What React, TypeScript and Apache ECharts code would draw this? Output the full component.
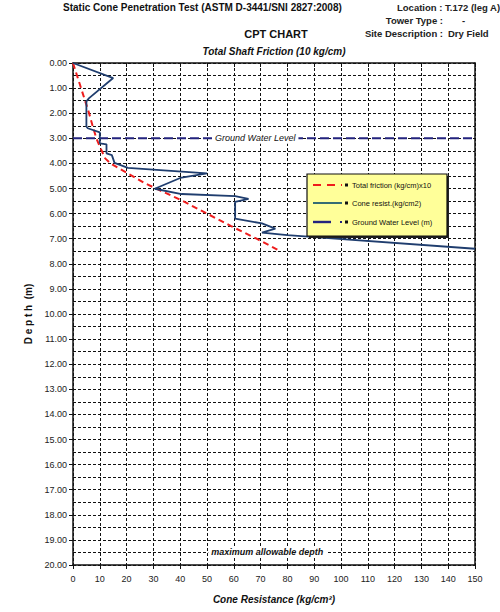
import React, { useEffect, useRef } from "react";
import * as echarts from "echarts";

// cone resistance (kg/cm2) against depth (m)
const coneDepth = [0, 0.6, 1.4, 1.53, 2.53, 2.6, 2.76, 3.2, 3.24, 3.6, 3.67, 3.98, 4.18, 4.4, 4.58, 5.01, 5.22, 5.3, 5.41, 5.53, 6.2, 6.39, 6.6, 6.76, 6.86, 7.4];
const coneValue = [0, 15, 6, 5, 5, 5.5, 10, 10, 12.5, 12.5, 14.5, 15.5, 20.5, 50, 40, 30.5, 40.5, 60.5, 65.5, 60.5, 60.5, 70.5, 75.5, 70.5, 80, 150];

// total shaft friction x10 against depth
const frictionDepth = [0, 0.5, 1.0, 1.5, 2.0, 2.5, 3.0, 3.4, 3.8, 4.0, 4.4, 4.8, 5.1, 5.5, 6.0, 6.5, 7.0, 7.45];
const frictionValue = [0, 1.5, 3, 4.5, 6, 7.3, 8.7, 10.3, 12, 14, 20.5, 27, 33, 41, 50, 59, 68.5, 76.5];

const groundWaterDepth = 3;
const maxAllowableDepth = 19.5;
const maxDepth = 20;
const xTicks = [0, 150];

const navy = "#1f3d6e";
const gwlColor = "#23237e";
const font = "Liberation Sans, Arial, sans-serif";

const App = () => {
  const chartRef = useRef<HTMLDivElement>(null);

  useEffect(() => {
    document.body.style.margin = "0";
    const chart = echarts.init(chartRef.current, null, { renderer: "svg" });

    const cone = coneDepth.map((d, i) => [coneValue[i], d]);
    const friction = frictionDepth.map((d, i) => [frictionValue[i], d]);

    // legend box parts, all on top of the plot
    const lz = { z: 100, zlevel: 0 };

    chart.setOption({
      animation: false,
      textStyle: { fontFamily: font },
      grid: { left: 73, right: 25, top: 63, bottom: 47 },
      xAxis: [
        {
          type: "value",
          position: "bottom",
          min: xTicks[0],
          max: xTicks[1],
          interval: 10,
          name: "Cone Resistance (kg/cm²)",
          nameLocation: "middle",
          nameGap: 29,
          nameTextStyle: { fontWeight: "bold", fontStyle: "italic", fontSize: 10, color: "#111" },
          axisLine: { show: true, onZero: false, lineStyle: { color: "#111", width: 1.5 } },
          axisTick: { show: true, length: 4, lineStyle: { color: "#111" } },
          axisLabel: { fontSize: 9, color: "#222", margin: 9 },
          splitLine: { show: true, lineStyle: { color: "#111", type: [3, 2], width: 1 } },
        },
        {
          type: "value",
          position: "top",
          min: xTicks[0],
          max: xTicks[1],
          interval: 10,
          name: "Total Shaft Friction (10 kg/cm)",
          nameLocation: "middle",
          nameGap: 7,
          nameTextStyle: { fontWeight: "bold", fontStyle: "italic", fontSize: 10, color: "#111", verticalAlign: "bottom" },
          axisLine: { show: true, onZero: false, lineStyle: { color: "#111", width: 1.5 } },
          axisTick: { show: true, inside: true, length: 4, lineStyle: { color: "#111" } },
          axisLabel: { show: false },
          splitLine: { show: false },
        },
      ],
      yAxis: [
        {
          type: "value",
          inverse: true,
          min: 0,
          max: maxDepth,
          interval: 1,
          name: "D e p t h  (m)",
          nameLocation: "middle",
          nameGap: 34,
          nameRotate: 90,
          nameTextStyle: { fontWeight: "bold", fontSize: 10, color: "#111" },
          axisLine: { show: true, onZero: false, lineStyle: { color: "#111", width: 1.5 } },
          axisTick: { show: true, length: 4, lineStyle: { color: "#111" } },
          axisLabel: { fontSize: 9, color: "#222", margin: 6, formatter: (v: number) => v.toFixed(2) },
          splitLine: { show: true, lineStyle: { color: "#111", type: [3, 2], width: 1 } },
          minorTick: { show: false, splitNumber: 2 },
          minorSplitLine: { show: true, lineStyle: { color: "#111", type: [3, 2], width: 1 } },
        },
        {
          type: "value",
          position: "right",
          inverse: true,
          min: 0,
          max: maxDepth,
          interval: 1,
          axisLine: { show: true, onZero: false, lineStyle: { color: "#111", width: 1.5 } },
          axisTick: { show: false },
          axisLabel: { show: false },
          splitLine: { show: false },
        },
      ],
      series: [
        {
          name: "Total friction (kg/cm)x10",
          type: "line",
          data: friction,
          symbol: "none",
          lineStyle: { color: "#ee1c1c", width: 2, type: [6, 4] },
          z: 3,
        },
        {
          name: "Cone resist.(kg/cm2)",
          type: "line",
          data: cone,
          symbol: "none",
          lineStyle: { color: navy, width: 1.8 },
          z: 4,
        },
        {
          name: "Ground Water Level (m)",
          type: "line",
          data: [[xTicks[0], groundWaterDepth], [xTicks[1], groundWaterDepth]],
          symbol: "none",
          lineStyle: { color: gwlColor, width: 2, type: [9, 4] },
          z: 3,
        },
      ],
      graphic: [
        { type: "text", left: 63, top: 2, style: { text: "Static Cone Penetration Test (ASTM D-3441/SNI 2827:2008)", font: `bold 10px ${font}`, fill: "#111" } },
        { type: "text", x: 397, y: 2, style: { text: "Location : T.172 (leg A)", font: `bold 9.5px ${font}`, fill: "#222" } },
        { type: "text", x: 443, y: 15, style: { text: "Tower Type :", font: `bold 9.5px ${font}`, fill: "#222", align: "right" } },
        { type: "text", x: 462, y: 15, style: { text: "-", font: `bold 9.5px ${font}`, fill: "#222" } },
        { type: "text", x: 276, y: 28, style: { text: "CPT CHART", font: `bold 11px ${font}`, fill: "#111", align: "center" } },
        { type: "text", x: 443, y: 28, style: { text: "Site Description :", font: `bold 9.5px ${font}`, fill: "#222", align: "right" } },
        { type: "text", x: 448, y: 28, style: { text: "Dry Field", font: `bold 9.5px ${font}`, fill: "#222" } },
        {
          type: "group",
          x: 307,
          y: 174,
          z: 100,
          children: [
            { type: "rect", ...lz, shape: { x: 2, y: 2, width: 140, height: 62 }, style: { fill: "#222" } },
            { type: "rect", ...lz, shape: { x: 0, y: 0, width: 140, height: 62 }, style: { fill: "#ffff99", stroke: "#111", lineWidth: 1.2, opacity: 1 } },
            { type: "line", ...lz, shape: { x1: 6, y1: 11, x2: 35, y2: 11 }, style: { stroke: "#ee1c1c", lineWidth: 1.8, lineDash: [8, 6] } },
            { type: "rect", ...lz, shape: { x: 38, y: 9.5, width: 3, height: 3 }, style: { fill: "#111" } },
            { type: "text", ...lz, x: 45, y: 11, style: { text: "Total friction (kg/cm)x10", font: `7.5px ${font}`, fill: "#111", verticalAlign: "middle" } },
            { type: "line", ...lz, shape: { x1: 6, y1: 29, x2: 35, y2: 29 }, style: { stroke: "#1f5c70", lineWidth: 1.8 } },
            { type: "rect", ...lz, shape: { x: 38, y: 27.5, width: 3, height: 3 }, style: { fill: "#111" } },
            { type: "text", ...lz, x: 45, y: 29, style: { text: "Cone resist.(kg/cm2)", font: `7.5px ${font}`, fill: "#111", verticalAlign: "middle" } },
            { type: "line", ...lz, shape: { x1: 6, y1: 48, x2: 24, y2: 48 }, style: { stroke: gwlColor, lineWidth: 2.4 } },
            { type: "rect", ...lz, shape: { x: 33, y: 47, width: 2, height: 2 }, style: { fill: gwlColor } },
            { type: "rect", ...lz, shape: { x: 38, y: 46.5, width: 3, height: 3 }, style: { fill: "#111" } },
            { type: "text", ...lz, x: 45, y: 48, style: { text: "Ground Water Level (m)", font: `7.5px ${font}`, fill: "#111", verticalAlign: "middle" } },
          ],
        },
      ],
    });

    // in-plot captions, placed through the axes
    const gwlPos = chart.convertToPixel({ gridIndex: 0 }, [68, groundWaterDepth]);
    const maxPos = chart.convertToPixel({ gridIndex: 0 }, [72.5, maxAllowableDepth]);
    const caption = (id: string, text: string, pos: number[], weight: string) => ({
      id,
      type: "text",
      x: pos[0],
      y: pos[1],
      z: 50,
      style: {
        text,
        font: `italic ${weight} 9px ${font}`,
        fill: "#111",
        align: "center",
        verticalAlign: "middle",
        backgroundColor: "#fff",
        padding: [1, 3],
      },
    });
    chart.setOption({
      graphic: [
        caption("gwl", "Ground Water Level", gwlPos, "normal"),
        caption("maxd", "maximum allowable depth", maxPos, "bold"),
      ],
    });

    return () => {
      chart.dispose();
    };
  }, []);

  return <div ref={chartRef} style={{ width: "500px", height: "612px" }}></div>;
};

export default App;
